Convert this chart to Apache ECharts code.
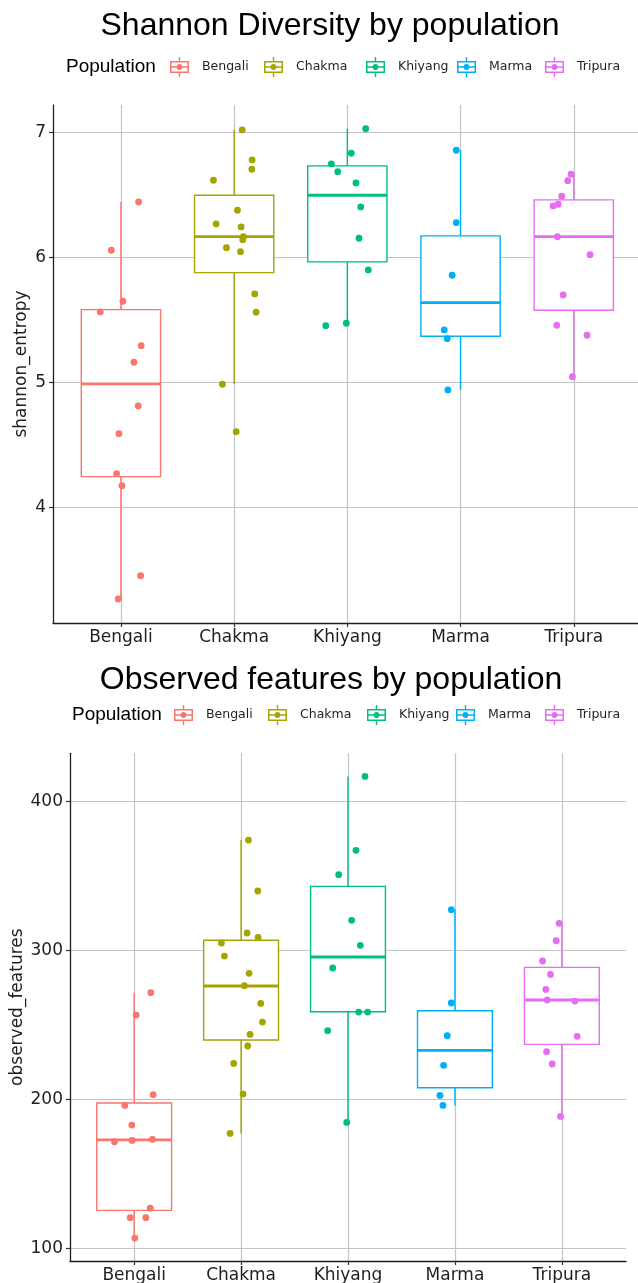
<!DOCTYPE html>
<html>
<head>
<meta charset="utf-8">
<title>Diversity by population</title>
<script src="https://cdn.jsdelivr.net/npm/echarts@6/dist/echarts.min.js"></script>
<style>
  html, body { margin: 0; padding: 0; background: #fff; }
  #chart { width: 638px; height: 1283px; }
</style>
</head>
<body>
<div id="chart"></div>
<script>
  var populations = ['Bengali', 'Chakma', 'Khiyang', 'Marma', 'Tripura'];
  var colors = ['#F8766D', '#A3A500', '#00BF7D', '#00B0F6', '#E76BF3'];

  // box stats per population: [lower whisker, Q1, median, Q3, upper whisker]
  var shannonBox = [
    [3.267, 4.245, 4.987, 5.581, 6.443],
    [4.987, 5.877, 6.165, 6.496, 7.019],
    [5.472, 5.963, 6.496, 6.731, 7.029],
    [4.939, 5.368, 5.637, 6.171, 6.856],
    [5.045, 5.576, 6.165, 6.459, 6.664]
  ];
  // jittered samples per population: [x jitter, value]
  var shannonPoints = [
    [[0.156, 6.443], [-0.085, 6.056], [0.018, 5.648], [-0.183, 5.563], [0.179, 5.293], [0.115, 5.160],
     [0.153, 4.811], [-0.018, 4.589], [-0.038, 4.269], [0.009, 4.173], [0.174, 3.453], [-0.024, 3.267]],
    [[0.071, 7.019], [0.159, 6.779], [0.156, 6.704], [-0.183, 6.616], [0.029, 6.376], [-0.159, 6.267],
     [0.062, 6.243], [0.082, 6.165], [0.076, 6.141], [-0.068, 6.077], [0.056, 6.045], [0.182, 5.707],
     [0.194, 5.560], [-0.103, 4.984], [0.018, 4.605]],
    [[0.162, 7.029], [0.035, 6.832], [-0.141, 6.747], [-0.085, 6.685], [0.076, 6.595], [0.118, 6.403],
     [0.103, 6.152], [0.185, 5.899], [-0.191, 5.453], [-0.009, 5.472]],
    [[-0.038, 6.856], [-0.038, 6.277], [-0.074, 5.856], [-0.144, 5.419], [-0.118, 5.349], [-0.112, 4.939]],
    [[-0.024, 6.664], [-0.053, 6.613], [-0.106, 6.488], [-0.138, 6.424], [-0.182, 6.411], [-0.144, 6.165],
     [0.144, 6.021], [-0.094, 5.699], [-0.150, 5.456], [0.117, 5.376], [-0.012, 5.045]]
  ];

  var featuresBox = [
    [106.9, 125.5, 172.9, 197.6, 271.7],
    [177.2, 239.9, 276.2, 306.9, 374.2],
    [184.6, 258.9, 295.7, 343.1, 417.0],
    [196.0, 207.9, 233.0, 259.6, 327.5],
    [188.6, 237.0, 266.8, 288.7, 318.3]
  ];
  var featuresPoints = [
    [[0.156, 271.7], [0.019, 256.7], [0.178, 203.2], [-0.087, 196.0], [-0.022, 182.8], [-0.184, 171.6],
     [-0.019, 172.5], [0.171, 173.2], [0.150, 127.0], [-0.037, 120.6], [0.109, 120.6], [0.006, 106.9]],
    [[0.069, 374.2], [0.156, 340.0], [0.056, 311.8], [0.159, 308.9], [-0.184, 305.1], [-0.156, 296.3],
     [0.075, 284.7], [0.031, 276.4], [0.184, 264.5], [0.200, 252.0], [0.084, 243.7], [0.062, 235.9],
     [-0.069, 224.2], [0.019, 203.6], [-0.103, 177.2]],
    [[0.159, 417.0], [0.075, 367.3], [-0.087, 351.0], [0.034, 320.3], [0.115, 303.5], [-0.143, 288.3],
     [0.100, 258.7], [0.184, 258.7], [-0.190, 246.2], [-0.012, 184.6]],
    [[-0.034, 327.5], [-0.034, 264.8], [-0.072, 242.8], [-0.106, 222.9], [-0.140, 202.7], [-0.112, 196.0]],
    [[-0.025, 318.3], [-0.053, 306.6], [-0.181, 293.0], [-0.106, 284.0], [-0.150, 273.9], [-0.137, 266.8],
     [0.122, 266.1], [0.143, 242.4], [-0.143, 232.1], [-0.090, 223.8], [-0.012, 188.6]]
  ];

  var shannonTicks = [4, 5, 6, 7];
  var featuresTicks = [100, 200, 300, 400];
  var catTicks = [0, 1, 2, 3, 4];

  var boxHalf = 0.35;
  var textColor = '#1f1f1f';
  var gridColor = '#c4c4c4';

  // box glyph used as legend key: box, median, whiskers and a dot
  var keyIcon = 'path://M0 4L19 4L19 16L0 16Z M1.5 5.5L1.5 14.5L17.5 14.5L17.5 5.5Z ' +
    'M0 9.3L19 9.3L19 10.7L0 10.7Z M8.8 0L10.2 0L10.2 4L8.8 4Z M8.8 16L10.2 16L10.2 20L8.8 20Z ' +
    'M6.6 10A2.9 2.9 0 1 1 12.4 10A2.9 2.9 0 1 1 6.6 10Z';

  function renderBox(params, api) {
    var x = api.value(0);
    var lo = api.coord([x, api.value(1)]);
    var q1 = api.coord([x, api.value(2)]);
    var med = api.coord([x, api.value(3)]);
    var q3 = api.coord([x, api.value(4)]);
    var hi = api.coord([x, api.value(5)]);
    var left = api.coord([x - boxHalf, api.value(3)])[0];
    var right = api.coord([x + boxHalf, api.value(3)])[0];
    var color = api.visual('color');
    return {
      type: 'group',
      children: [
        { type: 'line', shape: { x1: lo[0], y1: lo[1], x2: q1[0], y2: q1[1] }, style: { stroke: color, lineWidth: 1.4 } },
        { type: 'line', shape: { x1: q3[0], y1: q3[1], x2: hi[0], y2: hi[1] }, style: { stroke: color, lineWidth: 1.4 } },
        { type: 'rect', shape: { x: left, y: q3[1], width: right - left, height: q1[1] - q3[1] },
          style: { fill: '#fff', stroke: color, lineWidth: 1.4 } },
        { type: 'line', shape: { x1: left, y1: med[1], x2: right, y2: med[1] }, style: { stroke: color, lineWidth: 2.8 } }
      ]
    };
  }

  function xAxisFor(gridIndex) {
    return {
      type: 'value', gridIndex: gridIndex, min: -0.6, max: 4.6,
      axisLine: { show: true, onZero: false, lineStyle: { color: textColor, width: 1.3 } },
      axisTick: { show: true, customValues: catTicks, length: 4, lineStyle: { color: '#333', width: 1.2 } },
      axisLabel: {
        customValues: catTicks, margin: 6, fontSize: 17, fontFamily: 'DejaVu Sans', color: textColor,
        formatter: function (v) { return populations[Math.round(v)]; }
      },
      splitLine: { show: true, lineStyle: { color: gridColor, width: 1.2 } }
    };
  }

  function yAxisFor(gridIndex, name, min, max, ticks, gap) {
    return {
      type: 'value', gridIndex: gridIndex, min: min, max: max,
      name: name, nameLocation: 'middle', nameGap: gap, nameMoveOverlap: false,
      nameTextStyle: { fontSize: 17, fontFamily: 'DejaVu Sans', color: textColor },
      axisLine: { show: true, onZero: false, lineStyle: { color: textColor, width: 1.3 } },
      axisTick: { show: true, customValues: ticks, length: 4, lineStyle: { color: '#333', width: 1.2 } },
      axisLabel: { customValues: ticks, margin: 7, fontSize: 17, fontFamily: 'DejaVu Sans', color: textColor },
      splitLine: { show: true, lineStyle: { color: gridColor, width: 1.2 } }
    };
  }

  var series = [];
  function addPanel(gridIndex, boxes, points) {
    populations.forEach(function (name, i) {
      series.push({
        type: 'custom', name: name, xAxisIndex: gridIndex, yAxisIndex: gridIndex,
        itemStyle: { color: colors[i] }, z: 2, silent: true,
        encode: { x: 0, y: [1, 2, 3, 4, 5] },
        renderItem: renderBox,
        data: [[i].concat(boxes[i])]
      });
    });
    populations.forEach(function (name, i) {
      series.push({
        type: 'scatter', name: name, xAxisIndex: gridIndex, yAxisIndex: gridIndex,
        symbolSize: 6.8, itemStyle: { color: colors[i], opacity: 1 }, z: 3, silent: true,
        data: points[i].map(function (p) { return [i + p[0], p[1]]; })
      });
    });
  }
  addPanel(0, shannonBox, shannonPoints);
  addPanel(1, featuresBox, featuresPoints);

  var legendLeftTop = [170, 264, 366, 457, 545];
  var legendLeftBottom = [174, 268, 367, 456, 545];
  var legends = [];
  function addLegends(lefts, top) {
    populations.forEach(function (name, i) {
      legends.push({
        left: lefts[i], top: top, padding: 0, orient: 'horizontal',
        data: [name], icon: keyIcon, itemWidth: 19, itemHeight: 20, selectedMode: false,
        textStyle: { fontSize: 12.5, fontFamily: 'DejaVu Sans', color: textColor, padding: [0, 0, 0, 8] }
      });
    });
  }
  addLegends(legendLeftTop, 57);
  addLegends(legendLeftBottom, 705);

  function label(text, x, y, size, align) {
    return {
      type: 'text', x: x, y: y, silent: true,
      style: { text: text, fontSize: size, fontFamily: 'Liberation Sans', fill: '#000',
        align: align, verticalAlign: 'middle' }
    };
  }

  var option = {
    animation: false,
    backgroundColor: '#fff',
    textStyle: { fontFamily: 'DejaVu Sans' },
    graphic: [
      label('Shannon Diversity by population', 330, 26, 32, 'center'),
      label('Population', 66, 67, 19, 'left'),
      label('Observed features by population', 331, 680, 32, 'center'),
      label('Population', 72, 715, 19, 'left')
    ],
    legend: legends,
    grid: [
      { left: 53, top: 105, width: 588.7, height: 518, outerBoundsMode: 'none', containLabel: false },
      { left: 70, top: 753.3, width: 556, height: 507.7, outerBoundsMode: 'none', containLabel: false }
    ],
    xAxis: [xAxisFor(0), xAxisFor(1)],
    yAxis: [
      yAxisFor(0, 'shannon_entropy', 3.074, 7.218, shannonTicks, 23),
      yAxisFor(1, 'observed_features', 91.5, 432.5, featuresTicks, 44)
    ],
    series: series
  };

  var chart = echarts.init(document.getElementById('chart'));
  chart.setOption(option);
  window.addEventListener('resize', function () { chart.resize(); });
</script>
</body>
</html>
